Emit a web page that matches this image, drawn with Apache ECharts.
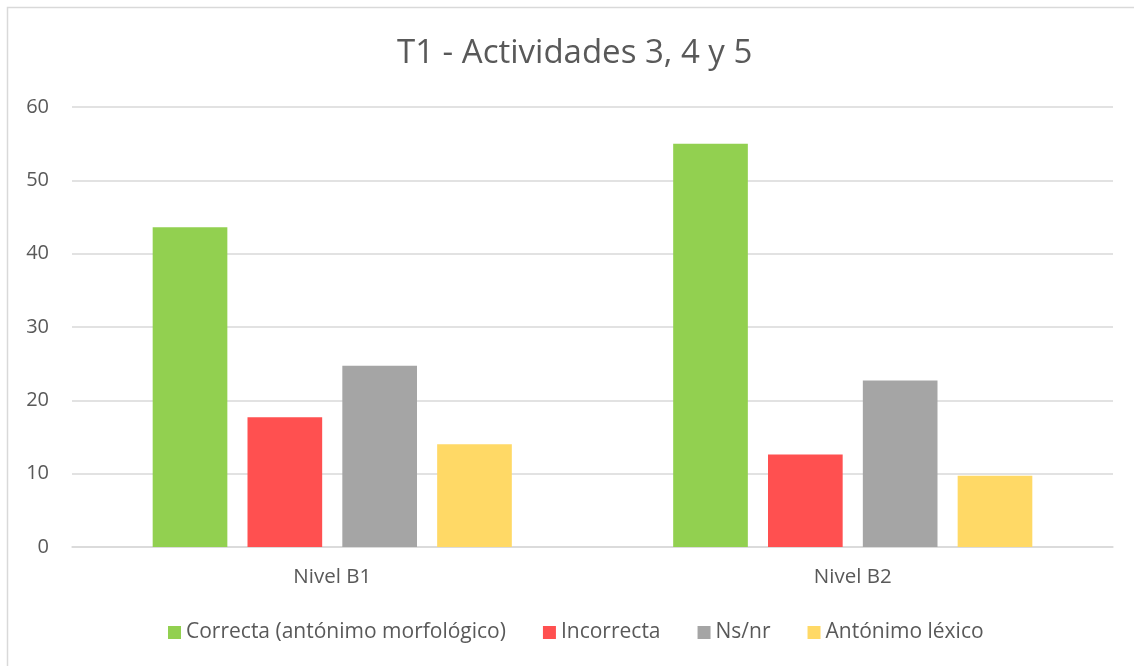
<!DOCTYPE html>
<html><head><meta charset="utf-8">
<script src="https://cdn.jsdelivr.net/npm/echarts@6/dist/echarts.min.js"></script>
<style>html,body{margin:0;padding:0;background:#fff}#c{width:1134px;height:666px}</style>
</head><body><div id="c"></div>
<script>
const categories = ['Nivel B1', 'Nivel B2'];
const seriesNames = ['Correcta (antónimo morfológico)', 'Incorrecta', 'Ns/nr', 'Antónimo léxico'];
const correcta = [43.6, 55.0];
const incorrecta = [17.7, 12.6];
const nsnr = [24.7, 22.7];
const antonimoLexico = [14.0, 9.7];
const yTicks = [0, 10, 20, 30, 40, 50, 60];
const colors = ['#92d050', '#ff5050', '#a5a5a5', '#ffd966'];
const values = [correcta, incorrecta, nsnr, antonimoLexico];
const font = '"Open Sans", sans-serif';

const chart = echarts.init(document.getElementById('c'), null, {renderer: 'canvas'});
chart.setOption({
  animation: false,
  backgroundColor: '#fff',
  textStyle: {fontFamily: font},
  graphic: [{type: 'rect', shape: {x: 7.5, y: 7.5, width: 1200, height: 700}, style: {fill: 'none', stroke: '#d9d9d9', lineWidth: 1.5}, silent: true}],
  title: {text: 'T1 - Actividades 3, 4 y 5', left: 392, top: 32,
    textStyle: {fontFamily: font, fontSize: 33, fontWeight: 'normal', color: '#595959'}},
  legend: {bottom: 18, left: 163, itemWidth: 13, itemHeight: 13, itemGap: 37, icon: 'rect',
    textStyle: {fontFamily: font, fontSize: 21, color: '#595959'},
    data: seriesNames},
  grid: {left: 72, right: 21, top: 107, bottom: 119, containLabel: false},
  xAxis: {type: 'category', data: categories,
    axisLine: {lineStyle: {color: '#d9d9d9', width: 1.5}}, axisTick: {show: false},
    axisLabel: {fontFamily: font, fontSize: 20.5, color: '#595959', margin: 20}},
  yAxis: {type: 'value', min: yTicks[0], max: yTicks[yTicks.length - 1], interval: 10,
    axisLine: {show: false}, axisTick: {show: false},
    splitLine: {lineStyle: {color: '#d9d9d9', width: 1.5}},
    axisLabel: {fontFamily: font, fontSize: 20, color: '#595959', margin: 23}},
  series: seriesNames.map((n, i) => ({
    name: n, type: 'bar', data: values[i], barGap: '27%', barCategoryGap: '31%',
    itemStyle: {color: colors[i]}
  }))
});
</script></body></html>
